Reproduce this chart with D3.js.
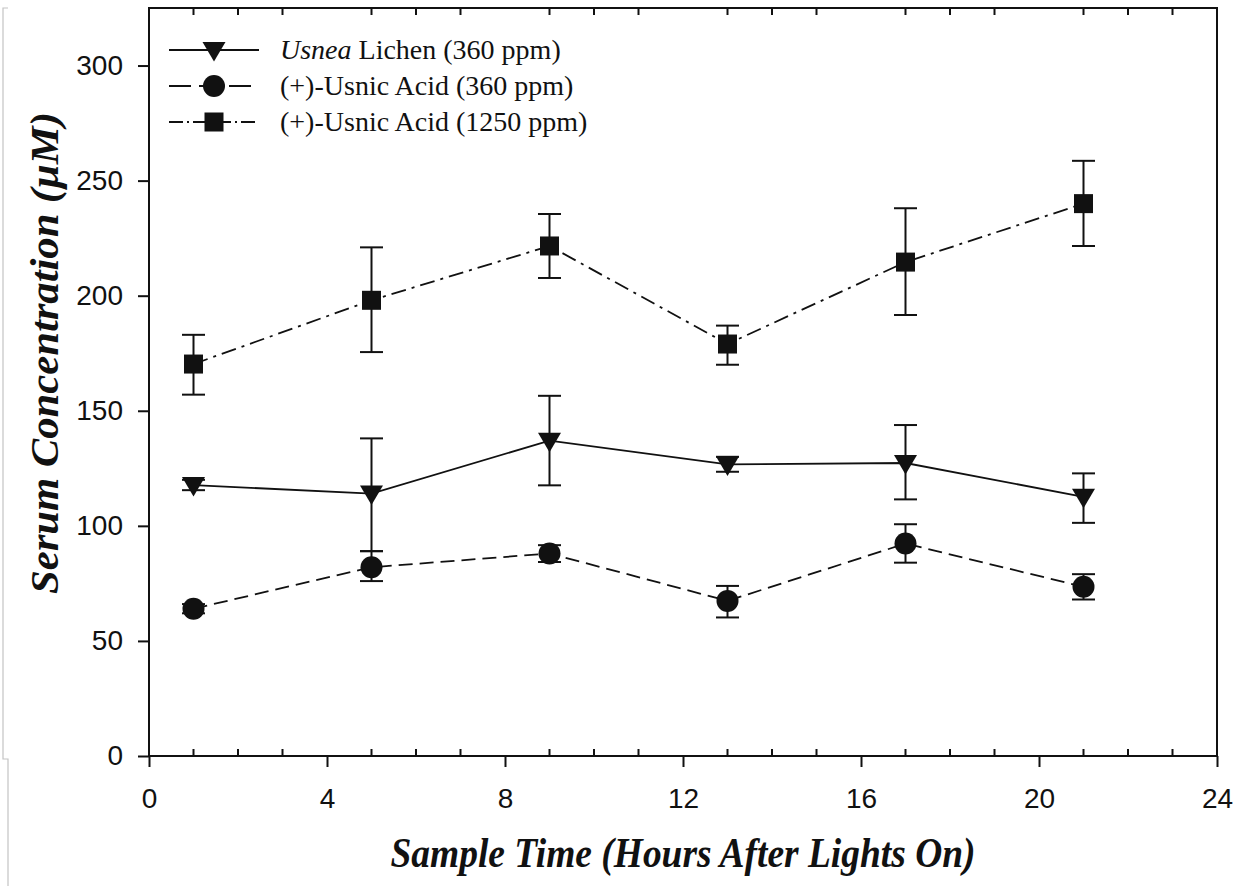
<!DOCTYPE html>
<html>
<head>
<meta charset="utf-8">
<script src="https://cdn.jsdelivr.net/npm/d3@7"></script>
<style>
  html, body { margin: 0; padding: 0; background: #fff; }
  svg { display: block; }
</style>
</head>
<body>
<svg id="chart" width="1246" height="886"></svg>
<script>
// Sample times (hours after lights on)
const times = [1, 5, 9, 13, 17, 21];

// Usnea lichen 360 ppm: means and error bar limits
const lichenMean = [117.7, 114, 137, 126.7, 127.3, 112.6];
const lichenLow  = [115.5, 89, 117.6, 123.5, 111.5, 101.3];
const lichenHigh = [120, 138, 156.5, 130, 143.8, 122.8];

// (+)-Usnic acid 360 ppm
const acid360Mean = [64, 82, 88, 67.4, 92.3, 73.5];
const acid360Low  = [62, 76, 84.3, 60.2, 84, 68];
const acid360High = [66, 89, 91.6, 73.9, 100.7, 79];

// (+)-Usnic acid 1250 ppm
const acid1250Mean = [170.3, 198, 221.6, 179, 214.6, 240];
const acid1250Low  = [157, 175.5, 207.7, 170, 191.6, 221.6];
const acid1250High = [183, 221, 235.5, 187, 238, 258.6];

const xTicks = [0, 4, 8, 12, 16, 20, 24];
const yTicks = [0, 50, 100, 150, 200, 250, 300];

const legendLabels = [
  { italic: "Usnea", rest: " Lichen (360 ppm)" },
  { italic: "", rest: "(+)-Usnic Acid (360 ppm)" },
  { italic: "", rest: "(+)-Usnic Acid (1250 ppm)" }
];

const svg = d3.select("#chart");
const plotL = 149, plotR = 1217, plotT = 8, plotB = 756;

const x = d3.scaleLinear().domain([0, 24]).range([plotL, plotR]);
const y = d3.scaleLinear().domain([0, 325]).range([plotB, plotT]);

// faint page edge at the left
svg.append("path")
  .attr("d", "M8,8 H3 V759 H8 V886")
  .attr("fill", "none").attr("stroke", "#c4c4c4").attr("stroke-width", 1.2);

const ink = "#111";
const sans = "Liberation Sans, Arial, sans-serif";
const serif = "Liberation Serif, Times New Roman, serif";

// frame
svg.append("rect")
  .attr("x", plotL).attr("y", plotT)
  .attr("width", plotR - plotL).attr("height", plotB - plotT)
  .attr("fill", "none").attr("stroke", ink).attr("stroke-width", 2);

// bottom axis: major ticks outward with labels
const xAxis = svg.append("g")
  .attr("transform", `translate(0,${plotB})`)
  .call(d3.axisBottom(x).tickValues(xTicks).tickSize(11).tickPadding(21).tickFormat(d3.format("d")));
xAxis.select(".domain").remove();
xAxis.selectAll("line").attr("stroke", ink).attr("stroke-width", 2);
xAxis.selectAll("text").attr("font-family", sans)
  .attr("font-size", 28).attr("fill", ink);

// minor ticks every hour, pointing inward (bottom and top)
const minor = d3.range(0, 25).filter(v => v % 4 !== 0);
svg.append("g").selectAll("line").data(minor).join("line")
  .attr("x1", d => x(d)).attr("x2", d => x(d))
  .attr("y1", plotB).attr("y2", plotB - 7)
  .attr("stroke", ink).attr("stroke-width", 2);
svg.append("g").selectAll("line").data(minor).join("line")
  .attr("x1", d => x(d)).attr("x2", d => x(d))
  .attr("y1", plotT).attr("y2", plotT + 7)
  .attr("stroke", ink).attr("stroke-width", 2);

// left axis
const yAxis = svg.append("g")
  .attr("transform", `translate(${plotL},0)`)
  .call(d3.axisLeft(y).tickValues(yTicks).tickSize(11).tickPadding(15).tickFormat(d3.format("d")));
yAxis.select(".domain").remove();
yAxis.selectAll("line").attr("stroke", ink).attr("stroke-width", 2);
yAxis.selectAll("text").attr("font-family", sans)
  .attr("font-size", 28).attr("fill", ink);

// axis titles
svg.append("text")
  .attr("x", (plotL + plotR) / 2).attr("y", 867)
  .attr("text-anchor", "middle")
  .attr("font-family", serif)
  .attr("font-style", "italic").attr("font-weight", "bold")
  .attr("font-size", 42).attr("fill", ink)
  .attr("textLength", 585).attr("lengthAdjust", "spacingAndGlyphs")
  .text("Sample Time (Hours After Lights On)");

svg.append("text")
  .attr("transform", "translate(58,353) rotate(-90)")
  .attr("text-anchor", "middle")
  .attr("font-family", serif)
  .attr("font-style", "italic").attr("font-weight", "bold")
  .attr("font-size", 40).attr("fill", ink)
  .attr("textLength", 482).attr("lengthAdjust", "spacingAndGlyphs")
  .text("Serum Concentration (µM)");

// marker shapes
function marker(sel, kind, cx, cy) {
  if (kind === "tri") {
    sel.append("path")
      .attr("d", `M${cx - 11.5},${cy - 8} L${cx + 11.5},${cy - 8} L${cx},${cy + 11.5} Z`)
      .attr("fill", ink);
  } else if (kind === "circle") {
    sel.append("circle").attr("cx", cx).attr("cy", cy).attr("r", 11).attr("fill", ink);
  } else {
    sel.append("rect").attr("x", cx - 9.5).attr("y", cy - 9.5)
      .attr("width", 19).attr("height", 19).attr("fill", ink);
  }
}

const series = [
  { mean: lichenMean, low: lichenLow, high: lichenHigh, kind: "tri", dash: null },
  { mean: acid360Mean, low: acid360Low, high: acid360High, kind: "circle", dash: "14,7" },
  { mean: acid1250Mean, low: acid1250Low, high: acid1250High, kind: "square", dash: "15,6,3,6" }
];

const line = d3.line().x(d => x(d[0])).y(d => y(d[1]));

series.forEach(s => {
  const g = svg.append("g");
  const pts = times.map((t, i) => [t, s.mean[i]]);
  // error bars
  times.forEach((t, i) => {
    const cx = x(t);
    g.append("line").attr("x1", cx).attr("x2", cx)
      .attr("y1", y(s.low[i])).attr("y2", y(s.high[i]))
      .attr("stroke", ink).attr("stroke-width", 2);
    [s.low[i], s.high[i]].forEach(v => {
      g.append("line").attr("x1", cx - 11.5).attr("x2", cx + 11.5)
        .attr("y1", y(v)).attr("y2", y(v))
        .attr("stroke", ink).attr("stroke-width", 2);
    });
  });
  g.append("path").datum(pts)
    .attr("d", line).attr("fill", "none")
    .attr("stroke", ink).attr("stroke-width", 1.8)
    .attr("stroke-dasharray", s.dash);
  pts.forEach(p => marker(g, s.kind, x(p[0]), y(p[1])));
});

// legend
const legendRows = [50, 86, 122];
series.forEach((s, i) => {
  const g = svg.append("g");
  const ly = legendRows[i];
  g.append("line").attr("x1", 169).attr("x2", 259).attr("y1", ly).attr("y2", ly)
    .attr("stroke", ink).attr("stroke-width", 1.8)
    .attr("stroke-dasharray", s.kind === "circle" ? "22,8" : (s.kind === "square" ? "14,4,2,4" : null));
  marker(g, s.kind, 214, ly);
  const t = g.append("text").attr("x", 280).attr("y", ly + 9)
    .attr("font-family", serif)
    .attr("font-size", 28).attr("fill", ink);
  if (legendLabels[i].italic) {
    t.append("tspan").attr("font-style", "italic").text(legendLabels[i].italic);
  }
  t.append("tspan").text(legendLabels[i].rest);
});
</script>
</body>
</html>
